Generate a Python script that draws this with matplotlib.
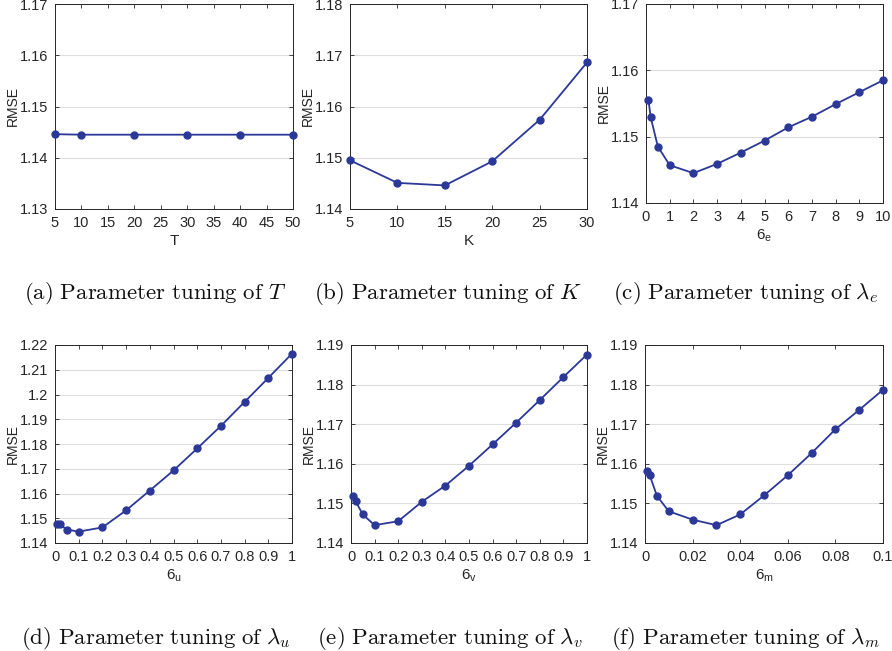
import matplotlib
matplotlib.use("Agg")
import matplotlib.pyplot as plt
from matplotlib.ticker import FuncFormatter

plt.rcParams['font.family'] = ['Liberation Sans', 'DejaVu Sans']
plt.rcParams['mathtext.fontset'] = 'cm'

# parameter values (x) and RMSE (y)
T_vals = [5, 10, 20, 30, 40, 50]
T_rmse = [1.1446, 1.1445, 1.1445, 1.1445, 1.1445, 1.1445]

K_vals = [5, 10, 15, 20, 25, 30]
K_rmse = [1.1495, 1.1451, 1.1446, 1.1493, 1.1574, 1.1686]

le_vals = [0.1, 0.2, 0.5, 1, 2, 3, 4, 5, 6, 7, 8, 9, 10]
le_rmse = [1.1556, 1.1529, 1.1485, 1.1457, 1.1445, 1.1459, 1.1476,
           1.1494, 1.1514, 1.1530, 1.1549, 1.1567, 1.1585]

lu_vals = [0.01, 0.02, 0.05, 0.1, 0.2, 0.3, 0.4, 0.5, 0.6, 0.7, 0.8, 0.9, 1]
lu_rmse = [1.1478, 1.1475, 1.1454, 1.1446, 1.1463, 1.1532, 1.1612,
           1.1693, 1.1782, 1.1873, 1.1970, 1.2067, 1.2165]

lv_vals = [0.01, 0.02, 0.05, 0.1, 0.2, 0.3, 0.4, 0.5, 0.6, 0.7, 0.8, 0.9, 1]
lv_rmse = [1.1518, 1.1505, 1.1472, 1.1445, 1.1455, 1.1504, 1.1545,
           1.1595, 1.1649, 1.1704, 1.1761, 1.1819, 1.1876]

lm_vals = [0.001, 0.002, 0.005, 0.01, 0.02, 0.03, 0.04, 0.05, 0.06, 0.07, 0.08, 0.09, 0.1]
lm_rmse = [1.1583, 1.1571, 1.1519, 1.1480, 1.1459, 1.1445, 1.1472,
           1.1520, 1.1571, 1.1627, 1.1687, 1.1736, 1.1787]

W, H = 892, 651
fig = plt.figure(figsize=(W / 100, H / 100), dpi=100)

line_color = '#2b3897'
txt_color = '#262626'
fmt = FuncFormatter(lambda v, p: '%g' % round(v, 6))


def make_axes(box, x, y, xlim, xticks, ylim, yticks, xlabel, caption, cap_x, cap_y):
    l, r, t, b = box
    w, h = r - l, b - t
    ax = fig.add_axes([l / W, 1 - b / H, w / W, h / H])
    ax.plot(x, y, color=line_color, lw=1.3, marker='o', ms=5,
            mfc=line_color, mec=line_color, clip_on=False, zorder=3)
    ax.set_xlim(xlim)
    ax.set_ylim(ylim)
    ax.set_xticks(xticks)
    ax.set_yticks(yticks)
    ax.xaxis.set_major_formatter(fmt)
    ax.yaxis.set_major_formatter(fmt)
    ax.grid(axis='y', color='#dedede', lw=0.8)
    ax.set_axisbelow(True)
    ax.tick_params(direction='in', top=True, right=True, length=3,
                   width=0.6, labelsize=10.5, colors=txt_color, pad=5)
    for s in ax.spines.values():
        s.set_color(txt_color)
        s.set_linewidth(0.7)
    ax.set_ylabel('RMSE', fontsize=10, color=txt_color)
    ax.yaxis.set_label_coords(-35 / w, 0.5)
    ax.set_xlabel(xlabel, fontsize=11, color=txt_color)
    ax.xaxis.set_label_coords(0.5, -25 / h)
    fig.text(cap_x / W, 1 - cap_y / H, caption, fontsize=16.5,
             ha='center', va='baseline', color='#111111')
    return ax


make_axes((55, 293, 4, 209), T_vals, T_rmse, (5, 50), list(range(5, 51, 5)),
          (1.13, 1.17), [1.13, 1.14, 1.15, 1.16, 1.17], 'T',
          r'$\mathrm{(a)\ Parameter\ tuning\ of\ }T$', 155, 299)

make_axes((350, 587, 4, 209), K_vals, K_rmse, (5, 30), [5, 10, 15, 20, 25, 30],
          (1.14, 1.18), [1.14, 1.15, 1.16, 1.17, 1.18], 'K',
          r'$\mathrm{(b)\ Parameter\ tuning\ of\ }K$', 448, 299)

make_axes((646, 883, 4, 203), le_vals, le_rmse, (0, 10), list(range(0, 11)),
          (1.14, 1.17), [1.14, 1.15, 1.16, 1.17], r'$\mathregular{6_e}$',
          r'$\mathrm{(c)\ Parameter\ tuning\ of\ }\lambda_e$', 746, 299)

make_axes((55, 292, 345, 543), lu_vals, lu_rmse, (0, 1),
          [0, 0.1, 0.2, 0.3, 0.4, 0.5, 0.6, 0.7, 0.8, 0.9, 1],
          (1.14, 1.22), [1.14, 1.15, 1.16, 1.17, 1.18, 1.19, 1.2, 1.21, 1.22],
          r'$\mathregular{6_u}$',
          r'$\mathrm{(d)\ Parameter\ tuning\ of\ }\lambda_u$', 156, 644)

make_axes((351, 587, 345, 543), lv_vals, lv_rmse, (0, 1),
          [0, 0.1, 0.2, 0.3, 0.4, 0.5, 0.6, 0.7, 0.8, 0.9, 1],
          (1.14, 1.19), [1.14, 1.15, 1.16, 1.17, 1.18, 1.19],
          r'$\mathregular{6_v}$',
          r'$\mathrm{(e)\ Parameter\ tuning\ of\ }\lambda_v$', 450, 644)

make_axes((645, 883, 345, 543), lm_vals, lm_rmse, (0, 0.1),
          [0, 0.02, 0.04, 0.06, 0.08, 0.1],
          (1.14, 1.19), [1.14, 1.15, 1.16, 1.17, 1.18, 1.19],
          r'$\mathregular{6_m}$',
          r'$\mathrm{(f)\ Parameter\ tuning\ of\ }\lambda_m$', 745, 644)

fig.savefig('out.png', dpi=100)
